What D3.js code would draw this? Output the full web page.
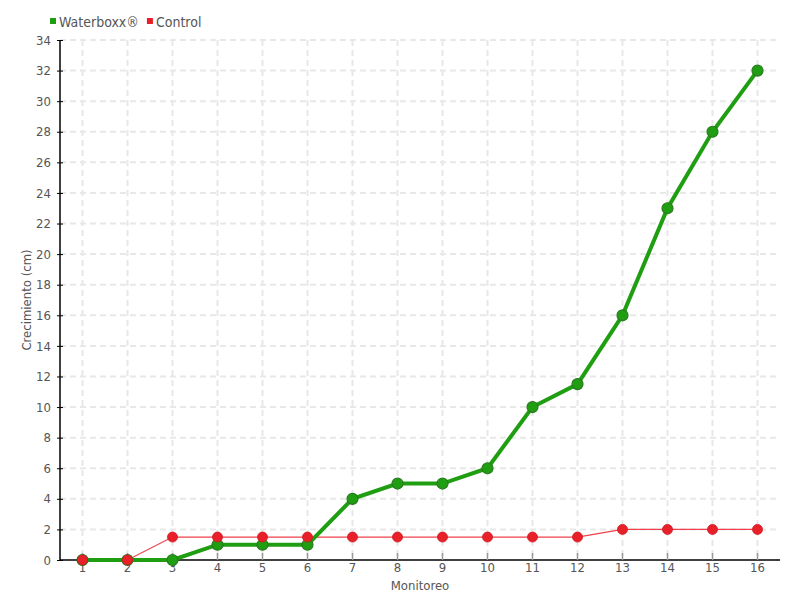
<!DOCTYPE html>
<html><head><meta charset="utf-8">
<script src="https://cdn.jsdelivr.net/npm/d3@7"></script>
<style>
body{margin:0;background:#fff;}
text{font-family:"DejaVu Sans Condensed","DejaVu Sans",sans-serif;font-stretch:condensed;fill:#555;}
</style></head>
<body><svg id="c" width="800" height="600"></svg>
<script>
const categories = ["1","2","3","4","5","6","7","8","9","10","11","12","13","14","15","16"];
const waterboxx = [0,0,0,1,1,1,4,5,5,6,10,11.5,16,23,28,32];
const control = [0,0,1.5,1.5,1.5,1.5,1.5,1.5,1.5,1.5,1.5,1.5,2,2,2,2];
const yTicks = d3.range(0,35,2);
const seriesNames = ["Waterboxx®","Control"];

const svg = d3.select("#c");
const L=60,R=780,T=40,B=560;
const x = d3.scaleBand().domain(categories).range([L,R]);
const y = d3.scaleLinear().domain([0,34]).range([B,T]);
const cx = d => x(d)+x.bandwidth()/2;

// grid
svg.append("g").selectAll("line").data(yTicks.filter(v=>v>0)).join("line")
 .attr("x1",L).attr("x2",R).attr("y1",d=>y(d)).attr("y2",d=>y(d))
 .attr("stroke","#e8e8e8").attr("stroke-width",2).attr("stroke-dasharray","6,4");
svg.append("g").selectAll("line").data(categories).join("line")
 .attr("x1",cx).attr("x2",cx).attr("y1",T).attr("y2",B)
 .attr("stroke","#e8e8e8").attr("stroke-width",2).attr("stroke-dasharray","6,4");

// axes
const yAxis = svg.append("g").attr("transform",`translate(${L},0)`)
 .call(d3.axisLeft(y).tickValues(yTicks).tickSize(3).tickPadding(6));
yAxis.select(".domain").attr("stroke","#000").attr("stroke-width",1.5).attr("d",`M0,${T}V${B}`);
yAxis.selectAll(".tick line").attr("stroke","#000").attr("x2",3).attr("x1",-3);
yAxis.selectAll(".tick text").attr("font-size",13).attr("fill","#555");

const xAxis = svg.append("g").attr("transform",`translate(0,${B})`)
 .call(d3.axisBottom(x).tickSize(0).tickPadding(0));
xAxis.select(".domain").attr("stroke","#000").attr("stroke-width",1.5).attr("d",`M${L},0H${R}`);
xAxis.selectAll(".tick line").attr("stroke","#999").attr("stroke-width",1.5).attr("y1",-7).attr("y2",0);
xAxis.selectAll(".tick text").attr("font-size",13).attr("fill","#555").attr("y",12).attr("dy",0);

svg.append("text").attr("x",420).attr("y",590).attr("text-anchor","middle").attr("font-size",13).text("Monitoreo");
svg.append("text").attr("transform","translate(31,300) rotate(-90)").attr("text-anchor","middle").attr("font-size",13).text("Crecimiento (cm)");

// lines
const line = d3.line().x((d,i)=>cx(categories[i])).y(d=>y(d));
svg.append("path").datum(control).attr("d",line).attr("fill","none").attr("stroke","#f0404a").attr("stroke-width",1.2);
svg.append("path").datum(waterboxx).attr("d",line).attr("fill","none").attr("stroke","#1f9e12").attr("stroke-width",4);
svg.append("g").selectAll("circle").data(waterboxx).join("circle")
 .attr("cx",(d,i)=>cx(categories[i])).attr("cy",d=>y(d)).attr("r",5.5)
 .attr("fill","#1f9e12").attr("stroke","#2a7a20").attr("stroke-width",1.2);
svg.append("g").selectAll("circle").data(control).join("circle")
 .attr("cx",(d,i)=>cx(categories[i])).attr("cy",d=>y(d)).attr("r",5)
 .attr("fill","#e8202a").attr("stroke","#d01820").attr("stroke-width",0.8);

// legend
const lg = svg.append("g");
const colors = ["#1f9e12","#e8202a"];
let lx = 50;
seriesNames.forEach((n,i)=>{
  lg.append("rect").attr("x",lx).attr("y",18).attr("width",6).attr("height",6).attr("fill",colors[i]);
  const t = lg.append("text").attr("x",lx+9).attr("y",27).attr("font-size",14).text(n);
  lx += 9 + t.node().getComputedTextLength() + 8;
});
</script></body></html>
